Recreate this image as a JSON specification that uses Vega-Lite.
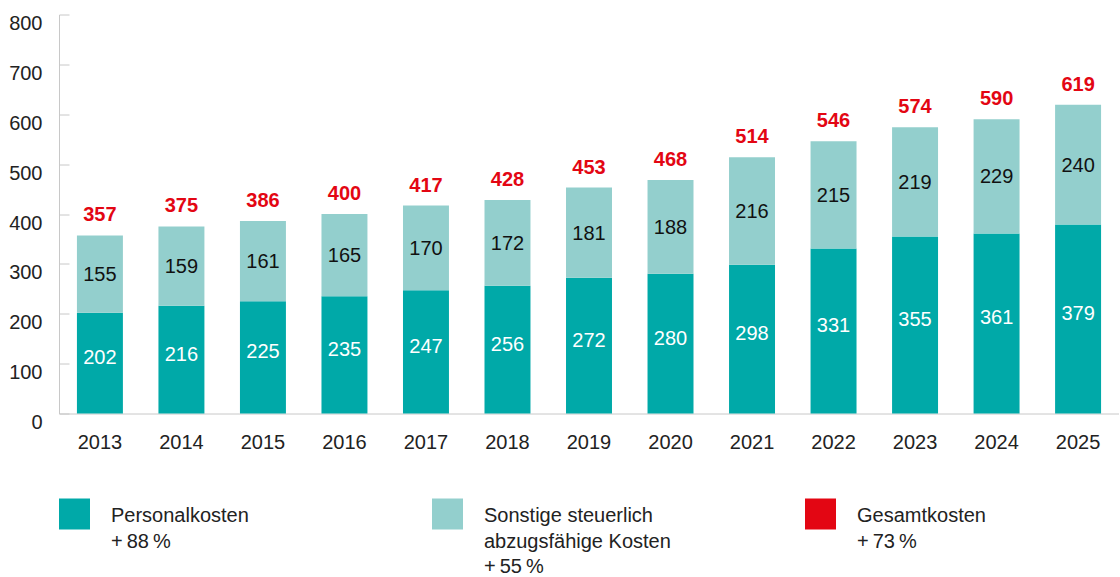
{
  "$schema": "https://vega.github.io/schema/vega-lite/v6.json",
  "padding": {"left": 8, "top": 13.5, "right": 0, "bottom": 0},
  "background": "white",
  "config": {
    "view": {"stroke": null},
    "font": "Liberation Sans",
    "axis": {"title": null, "labelFont": "Liberation Sans", "labelFontSize": 20, "labelColor": "#222222", "domainColor": "#c8c8c8", "tickColor": "#c8c8c8", "grid": false}
  },
  "datasets": {
    "costs": [
      {"year": "2013", "cat": "Personalkosten", "value": 202},
      {"year": "2014", "cat": "Personalkosten", "value": 216},
      {"year": "2015", "cat": "Personalkosten", "value": 225},
      {"year": "2016", "cat": "Personalkosten", "value": 235},
      {"year": "2017", "cat": "Personalkosten", "value": 247},
      {"year": "2018", "cat": "Personalkosten", "value": 256},
      {"year": "2019", "cat": "Personalkosten", "value": 272},
      {"year": "2020", "cat": "Personalkosten", "value": 280},
      {"year": "2021", "cat": "Personalkosten", "value": 298},
      {"year": "2022", "cat": "Personalkosten", "value": 331},
      {"year": "2023", "cat": "Personalkosten", "value": 355},
      {"year": "2024", "cat": "Personalkosten", "value": 361},
      {"year": "2025", "cat": "Personalkosten", "value": 379},
      {"year": "2013", "cat": "Sonstige steuerlich abzugsfähige Kosten", "value": 155},
      {"year": "2014", "cat": "Sonstige steuerlich abzugsfähige Kosten", "value": 159},
      {"year": "2015", "cat": "Sonstige steuerlich abzugsfähige Kosten", "value": 161},
      {"year": "2016", "cat": "Sonstige steuerlich abzugsfähige Kosten", "value": 165},
      {"year": "2017", "cat": "Sonstige steuerlich abzugsfähige Kosten", "value": 170},
      {"year": "2018", "cat": "Sonstige steuerlich abzugsfähige Kosten", "value": 172},
      {"year": "2019", "cat": "Sonstige steuerlich abzugsfähige Kosten", "value": 181},
      {"year": "2020", "cat": "Sonstige steuerlich abzugsfähige Kosten", "value": 188},
      {"year": "2021", "cat": "Sonstige steuerlich abzugsfähige Kosten", "value": 216},
      {"year": "2022", "cat": "Sonstige steuerlich abzugsfähige Kosten", "value": 215},
      {"year": "2023", "cat": "Sonstige steuerlich abzugsfähige Kosten", "value": 219},
      {"year": "2024", "cat": "Sonstige steuerlich abzugsfähige Kosten", "value": 229},
      {"year": "2025", "cat": "Sonstige steuerlich abzugsfähige Kosten", "value": 240}
    ],
    "legend": [
      {"cat": "Personalkosten", "label": "Personalkosten\n+\u200988\u2009%"},
      {"cat": "Sonstige steuerlich abzugsfähige Kosten", "label": "Sonstige steuerlich\nabzugsfähige Kosten\n+\u200955\u2009%"},
      {"cat": "Gesamtkosten", "label": "Gesamtkosten\n+\u200973\u2009%"}
    ]
  },
  "bounds": "flush",
  "spacing": 85,
  "vconcat": [
    {
      "width": 1060,
      "height": 399,
      "data": {"name": "costs"},
      "layer": [
        {
          "mark": {"type": "bar"},
          "encoding": {
            "x": {"field": "year", "type": "ordinal", "scale": {"paddingInner": 0.436, "paddingOuter": 0.22}, "axis": {"labelAngle": 0, "ticks": false, "labelPadding": 19, "domainWidth": 1}},
            "y": {"field": "value", "type": "quantitative", "stack": "zero", "scale": {"domain": [0, 800], "nice": false}, "axis": {"values": [0, 100, 200, 300, 400, 500, 600, 700, 800], "tickSize": -10, "labelPadding": 27, "labelBaseline": "top", "labelOffset": -1, "labelFlush": false, "labelOverlap": false}},
            "color": {"field": "cat", "type": "nominal", "scale": {"domain": ["Personalkosten", "Sonstige steuerlich abzugsfähige Kosten", "Gesamtkosten"], "range": ["#00A9A8", "#93CFCD", "#E30613"]}, "legend": null},
            "order": {"field": "cat", "sort": "ascending"}
          }
        },
        {
          "transform": [
            {"stack": "value", "groupby": ["year"], "sort": [{"field": "cat", "order": "ascending"}], "as": ["v0", "v1"]},
            {"fold": ["v0", "v1"], "as": ["edge", "pos"]},
            {"filter": {"field": "cat", "equal": "Personalkosten"}}
          ],
          "mark": {"type": "text", "fontSize": 20, "color": "#ffffff", "baseline": "middle", "dy": -5},
          "encoding": {
            "x": {"field": "year", "type": "ordinal"},
            "y": {"field": "pos", "type": "quantitative", "aggregate": "mean", "stack": null},
            "text": {"field": "value", "type": "quantitative"}
          }
        },
        {
          "transform": [
            {"stack": "value", "groupby": ["year"], "sort": [{"field": "cat", "order": "ascending"}], "as": ["v0", "v1"]},
            {"fold": ["v0", "v1"], "as": ["edge", "pos"]},
            {"filter": {"field": "cat", "equal": "Sonstige steuerlich abzugsfähige Kosten"}}
          ],
          "mark": {"type": "text", "fontSize": 20, "color": "#111111", "baseline": "middle", "dy": 1},
          "encoding": {
            "x": {"field": "year", "type": "ordinal"},
            "y": {"field": "pos", "type": "quantitative", "aggregate": "mean", "stack": null},
            "text": {"field": "value", "type": "quantitative"}
          }
        },
        {
          "mark": {"type": "text", "fontSize": 20, "fontWeight": "bold", "color": "#E30613", "baseline": "alphabetic", "dy": -14},
          "encoding": {
            "x": {"field": "year", "type": "ordinal"},
            "y": {"field": "value", "type": "quantitative", "aggregate": "sum", "stack": null},
            "text": {"field": "value", "type": "quantitative", "aggregate": "sum"}
          }
        }
      ]
    },
    {
      "width": 1060,
      "height": 31,
      "data": {"name": "legend"},
      "layer": [
        {
          "mark": {"type": "square", "size": 961, "filled": true, "opacity": 1, "xOffset": 15.5},
          "encoding": {
            "x": {"field": "cat", "type": "nominal", "bandPosition": 0, "sort": null, "scale": {"type": "band", "domain": ["Personalkosten", "Sonstige steuerlich abzugsfähige Kosten", "Gesamtkosten"], "range": [0, 1119], "paddingInner": 0, "paddingOuter": 0}, "axis": null},
            "color": {"field": "cat", "type": "nominal", "scale": {"domain": ["Personalkosten", "Sonstige steuerlich abzugsfähige Kosten", "Gesamtkosten"], "range": ["#00A9A8", "#93CFCD", "#E30613"]}, "legend": null}
          }
        },
        {
          "mark": {"type": "text", "fontSize": 20, "color": "#222222", "align": "left", "baseline": "top", "dy": -7.6, "dx": 52, "lineBreak": "\n", "lineHeight": 25.5},
          "encoding": {
            "x": {"field": "cat", "type": "nominal", "bandPosition": 0, "sort": null, "scale": {"type": "band", "domain": ["Personalkosten", "Sonstige steuerlich abzugsfähige Kosten", "Gesamtkosten"], "range": [0, 1119], "paddingInner": 0, "paddingOuter": 0}, "axis": null},
            "text": {"field": "label", "type": "nominal"}
          }
        }
      ]
    }
  ]
}
